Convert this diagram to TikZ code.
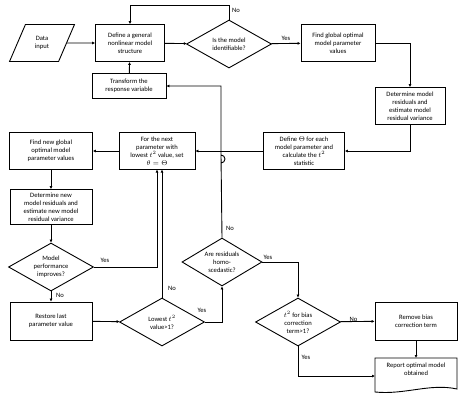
\documentclass[tikz,border=0pt]{standalone}
\usepackage{fontspec}
\setmainfont{Carlito}
\usetikzlibrary{shapes.geometric,arrows.meta}
\begin{document}
\begin{tikzpicture}[x=1pt,y=-1pt,
  every node/.style={font=\fontsize{6.6}{8}\selectfont, align=center, inner sep=0pt},
  box/.style={draw, line width=0.9pt, minimum width=#1},
  box/.default=82pt,
  dia/.style={draw, line width=0.9pt, diamond, aspect=1.75, minimum width=85pt, minimum height=48pt},
  con/.style={line width=0.9pt, -{Latex[length=3pt,width=3pt]}},
  lbl/.style={font=\fontsize{6.6}{8}\selectfont}]
\useasboundingbox (0,0) rectangle (474,410);
\node[draw, line width=0.9pt, trapezium, trapezium left angle=63, trapezium right angle=117, minimum width=65pt, minimum height=37pt, trapezium stretches=true] (data) at (42,43) {Data\\input};
\node[box=69pt, minimum height=37pt] (def) at (130,43) {Define a general\\nonlinear model\\structure};
\node[dia] (ident) at (229,44) {Is the model\\identifiable?};
\node[box=74pt, minimum height=37pt] (glob) at (338,43) {Find global optimal\\model parameter\\values};
\node[box=74pt, minimum height=25pt] (trans) at (129,86) {Transform the\\response variable};
\node[box=70pt, minimum height=37pt] (resid) at (410,106) {Determine model\\residuals and\\estimate model\\residual variance};
\node[box=81pt, minimum height=37pt] (theta) at (304,151) {Define $\Theta$ for each\\model parameter and\\calculate the $t^2$\\statistic};
\node[box=76pt, minimum height=37pt] (next) at (157,151) {For the next\\parameter with\\lowest $t^2$ value, set\\$\theta=\Theta$};
\node[box=83pt, minimum height=37pt] (newglob) at (51,151) {Find new global\\optimal model\\parameter values};
\node[box=82pt, minimum height=35pt] (newres) at (51,207) {Determine new\\model residuals and\\estimate new model\\residual variance};
\node[dia] (perf) at (51,267) {Model\\performance\\improves?};
\node[box=82pt, minimum height=38pt] (restore) at (51,321) {Restore last\\parameter value};
\node[dia] (low) at (162,322) {Lowest $t^2$\\value>1?};
\node[dia, minimum width=80pt] (homo) at (222,262) {Are residuals\\homo-\\scedastic?};
\node[dia] (bias) at (298,322) {$t^2$ for bias\\correction\\term>1?};
\node[box=82pt, minimum height=38pt] (remove) at (416,321) {Remove bias\\correction term};
\coordinate (rep) at (416,374);
\draw[line width=0.9pt] (375,358) -- (457,358) -- (457,389) .. controls (430,383) and (405,395) .. (375,392) -- cycle;
\node (report) at (416,369) {Report optimal model\\obtained};
\coordinate (repL) at (375,376);
\coordinate (repT) at (416,358);
% connectors
\draw[con] (data) -- (def);
\draw[con] (def) -- (ident);
\draw[con] (ident) -- node[lbl, above, yshift=2pt] {Yes} (glob);
\draw[con] (ident.north) -- (229,5) -| (def.north);
\node[lbl] at (236,10) {No};
\draw[con] (glob.east) -| (resid.north);
\draw[con] (resid.south) |- (theta.east);
\draw[con] (theta) -- (next);
\draw[con] (homo.north) -- (221,155) arc (-90:90:4) -- (221,86) -- (trans.east);
\draw[con] (trans) -- (def);
\draw[con] (next) -- (newglob);
\draw[con] (newglob) -- (newres);
\draw[con] (newres) -- (perf);
\draw[con] (perf.east) -- (157,267) -- (157,169.5);
\node[lbl] at (105,260) {Yes};
\draw[con] (perf) -- (restore);
\node[lbl] at (60,295) {No};
\draw[con] (low.north) -- (162,169.5);
\node[lbl] at (172,288) {No};
\draw[con] (restore) -- (low);
\draw[con] (low.east) -- (222,322) -- (homo.south);
\node[lbl] at (202,310) {Yes};
\node[lbl] at (230,228) {No};
\draw[con] (homo.east) -| (bias.north);
\node[lbl] at (268,257) {Yes};
\draw[con] (bias) -- node[lbl, above, xshift=-4pt] {No} (remove);
\draw[con] (bias.south) |- (repL);
\node[lbl] at (306,357) {Yes};
\draw[con] (remove) -- (repT);
\end{tikzpicture}
\end{document}
